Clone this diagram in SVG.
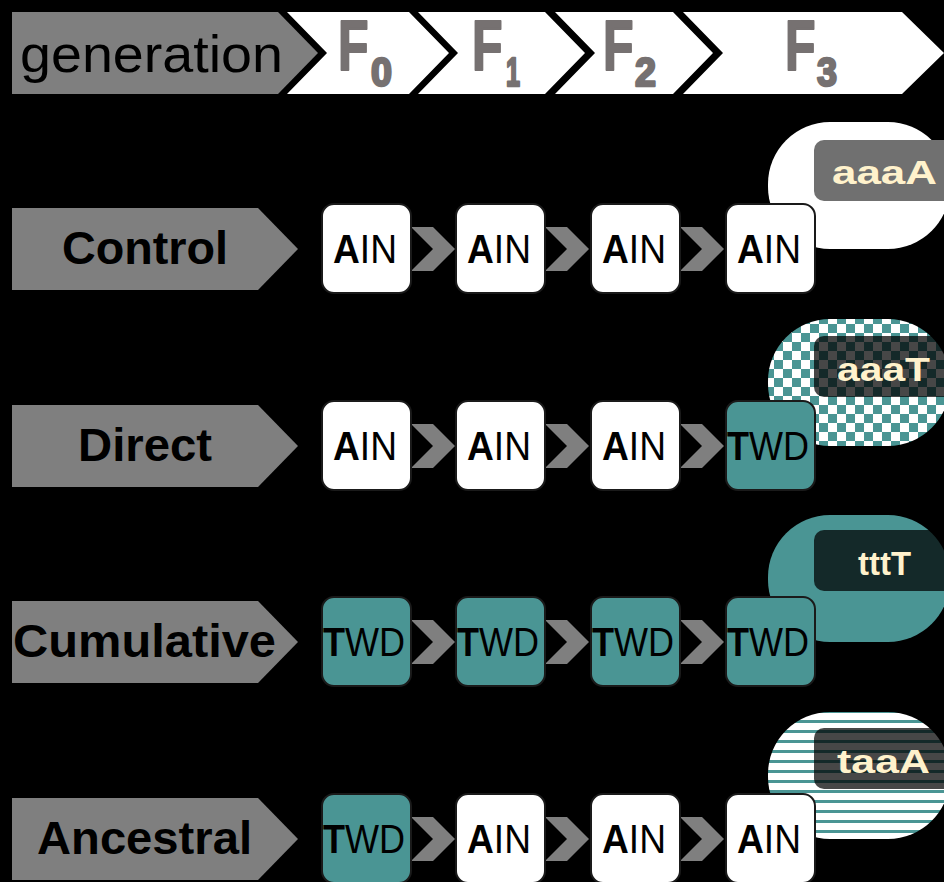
<svg xmlns="http://www.w3.org/2000/svg" width="944" height="882" viewBox="0 0 944 882">
<defs>
<style>
.hdr{fill:#ffffff}
.gray{fill:#7f7f7f}
.ftxt{font-family:"Liberation Sans",Arial,sans-serif;font-weight:bold;fill:#767171;stroke:#767171;stroke-linejoin:round}
.fbig{font-size:50px;stroke-width:1.5}
.fsub{font-size:40px;stroke-width:2.5}
.rowlbl{font-family:"Liberation Sans",Arial,sans-serif;font-weight:bold;font-size:46px;fill:#000}
.box{stroke:#1a1a1a;stroke-width:2}
.ain{fill:#ffffff}
.twd{fill:#4a9594}
.ntxt{font-family:"Liberation Sans",Arial,sans-serif;font-size:40px;fill:#000}
.b{font-weight:bold}
.conn{fill:#7f7f7f}
.lbltxt{font-family:"Liberation Sans",Arial,sans-serif;font-weight:bold;font-size:33px;fill:#fff2cc}
</style>
<pattern id="checker" x="0" y="0" width="18" height="18" patternUnits="userSpaceOnUse">
<rect width="18" height="18" fill="#ffffff"/>
<rect x="0" y="0" width="9" height="9" fill="#4a9594"/>
<rect x="9" y="9" width="9" height="9" fill="#4a9594"/>
</pattern>
<pattern id="stripes" x="0" y="0" width="10" height="10" patternUnits="userSpaceOnUse">
<rect width="10" height="10" fill="#ffffff"/>
<rect x="0" y="0" width="10" height="3" fill="#4a9594"/>
</pattern>
</defs>
<rect width="944" height="882" fill="#000"/>

<g id="header">
<polygon class="gray" points="12,12 278,12 318,53 278,94 12,94"/>
<text x="20" y="72" font-family="Liberation Sans,Arial,sans-serif" font-size="52" fill="#000" textLength="263" lengthAdjust="spacingAndGlyphs">generation</text>
<polygon class="hdr" points="287,12 409,12 449,53 409,94 287,94 327,53"/>
<polygon class="hdr" points="418,12 545,12 585,53 545,94 418,94 458,53"/>
<polygon class="hdr" points="555,12 673,12 713,53 673,94 555,94 595,53"/>
<polygon class="hdr" points="683,12 902,12 944,53 902,94 683,94 723,53"/>
<text class="ftxt fbig" transform="translate(338,70) scale(1,1.4)">F</text>
<text class="ftxt fsub" x="371" y="86" textLength="21" lengthAdjust="spacingAndGlyphs">0</text>
<text class="ftxt fbig" transform="translate(472,70) scale(1,1.4)">F</text>
<text class="ftxt fsub" x="506" y="86" textLength="14" lengthAdjust="spacingAndGlyphs">1</text>
<text class="ftxt fbig" transform="translate(603,70) scale(1,1.4)" font-size="48">F</text>
<text class="ftxt fsub" x="635" y="86" textLength="21" lengthAdjust="spacingAndGlyphs">2</text>
<text class="ftxt fbig" transform="translate(785,70) scale(1,1.4)" font-size="48">F</text>
<text class="ftxt fsub" x="817" y="86" textLength="20" lengthAdjust="spacingAndGlyphs">3</text>
</g>

<g id="row-labels">
<g id="label-control"><polygon class="gray" points="12,208 258,208 298,249 258,290 12,290"/><text class="rowlbl" x="62" y="264" textLength="166" lengthAdjust="spacingAndGlyphs">Control</text></g>
<g id="label-direct"><polygon class="gray" points="12,405 258,405 298,446 258,487 12,487"/><text class="rowlbl" x="78" y="461" textLength="134" lengthAdjust="spacingAndGlyphs">Direct</text></g>
<g id="label-cumulative"><polygon class="gray" points="12,601 258,601 298,642 258,683 12,683"/><text class="rowlbl" x="13" y="657" textLength="263" lengthAdjust="spacingAndGlyphs">Cumulative</text></g>
<g id="label-ancestral"><polygon class="gray" points="12,798 258,798 298,839 258,880 12,880"/><text class="rowlbl" x="37" y="854" textLength="215" lengthAdjust="spacingAndGlyphs">Ancestral</text></g>
</g>

<g id="connectors">
<polygon class="conn" points="411,227 433,227 455,249 433,271 411,271 433,249"/>
<polygon class="conn" points="545,227 567,227 589,249 567,271 545,271 567,249"/>
<polygon class="conn" points="680,227 702,227 724,249 702,271 680,271 702,249"/>
<polygon class="conn" points="411,424 433,424 455,446 433,468 411,468 433,446"/>
<polygon class="conn" points="545,424 567,424 589,446 567,468 545,468 567,446"/>
<polygon class="conn" points="680,424 702,424 724,446 702,468 680,468 702,446"/>
<polygon class="conn" points="411,620 433,620 455,642 433,664 411,664 433,642"/>
<polygon class="conn" points="545,620 567,620 589,642 567,664 545,664 567,642"/>
<polygon class="conn" points="680,620 702,620 724,642 702,664 680,664 702,642"/>
<polygon class="conn" points="411,817 433,817 455,839 433,861 411,861 433,839"/>
<polygon class="conn" points="545,817 567,817 589,839 567,861 545,861 567,839"/>
<polygon class="conn" points="680,817 702,817 724,839 702,861 680,861 702,839"/>
</g>

<g id="bubbles">
<g id="bubble-control">
<rect x="768" y="122" width="182" height="127" rx="62" fill="#ffffff"/>
<rect x="814" y="140" width="160" height="61" rx="10" fill="#707070"/>
<text class="lbltxt" x="832" y="184" textLength="105" lengthAdjust="spacingAndGlyphs">aaaA</text>
</g>
<g id="bubble-direct">
<rect x="768" y="319" width="182" height="127" rx="62" fill="url(#checker)"/>
<rect x="814" y="336" width="160" height="61" rx="10" fill="#000" fill-opacity="0.72"/>
<text class="lbltxt" x="837" y="381" textLength="93" lengthAdjust="spacingAndGlyphs">aaaT</text>
</g>
<g id="bubble-cumulative">
<rect x="768" y="515" width="182" height="127" rx="62" fill="#4a9594"/>
<rect x="814" y="530" width="160" height="61" rx="10" fill="#000" fill-opacity="0.72"/>
<text class="lbltxt" x="858" y="575" textLength="53" lengthAdjust="spacingAndGlyphs">tttT</text>
</g>
<g id="bubble-ancestral">
<rect x="768" y="712" width="182" height="127" rx="62" fill="url(#stripes)"/>
<rect x="814" y="728" width="160" height="61" rx="10" fill="#000" fill-opacity="0.72"/>
<text class="lbltxt" x="837" y="773" textLength="93" lengthAdjust="spacingAndGlyphs">taaA</text>
</g>
</g>

<g id="nodes">
<g id="control-f0"><rect class="box ain" x="322" y="204" width="89" height="89" rx="12"/><text class="ntxt" x="333" y="263" textLength="64" lengthAdjust="spacingAndGlyphs"><tspan class="b">A</tspan>IN</text></g>
<g id="control-f1"><rect class="box ain" x="456" y="204" width="89" height="89" rx="12"/><text class="ntxt" x="467" y="263" textLength="64" lengthAdjust="spacingAndGlyphs"><tspan class="b">A</tspan>IN</text></g>
<g id="control-f2"><rect class="box ain" x="591" y="204" width="89" height="89" rx="12"/><text class="ntxt" x="602" y="263" textLength="64" lengthAdjust="spacingAndGlyphs"><tspan class="b">A</tspan>IN</text></g>
<g id="control-f3"><rect class="box ain" x="726" y="204" width="89" height="89" rx="12"/><text class="ntxt" x="737" y="263" textLength="64" lengthAdjust="spacingAndGlyphs"><tspan class="b">A</tspan>IN</text></g>

<g id="direct-f0"><rect class="box ain" x="322" y="401" width="89" height="89" rx="12"/><text class="ntxt" x="333" y="460" textLength="64" lengthAdjust="spacingAndGlyphs"><tspan class="b">A</tspan>IN</text></g>
<g id="direct-f1"><rect class="box ain" x="456" y="401" width="89" height="89" rx="12"/><text class="ntxt" x="467" y="460" textLength="64" lengthAdjust="spacingAndGlyphs"><tspan class="b">A</tspan>IN</text></g>
<g id="direct-f2"><rect class="box ain" x="591" y="401" width="89" height="89" rx="12"/><text class="ntxt" x="602" y="460" textLength="64" lengthAdjust="spacingAndGlyphs"><tspan class="b">A</tspan>IN</text></g>
<g id="direct-f3"><rect class="box twd" x="726" y="401" width="89" height="89" rx="12"/><text class="ntxt" x="727" y="460" textLength="82" lengthAdjust="spacingAndGlyphs"><tspan class="b">T</tspan>WD</text></g>

<g id="cumulative-f0"><rect class="box twd" x="322" y="597" width="89" height="89" rx="12"/><text class="ntxt" x="323" y="656" textLength="82" lengthAdjust="spacingAndGlyphs"><tspan class="b">T</tspan>WD</text></g>
<g id="cumulative-f1"><rect class="box twd" x="456" y="597" width="89" height="89" rx="12"/><text class="ntxt" x="457" y="656" textLength="82" lengthAdjust="spacingAndGlyphs"><tspan class="b">T</tspan>WD</text></g>
<g id="cumulative-f2"><rect class="box twd" x="591" y="597" width="89" height="89" rx="12"/><text class="ntxt" x="592" y="656" textLength="82" lengthAdjust="spacingAndGlyphs"><tspan class="b">T</tspan>WD</text></g>
<g id="cumulative-f3"><rect class="box twd" x="726" y="597" width="89" height="89" rx="12"/><text class="ntxt" x="727" y="656" textLength="82" lengthAdjust="spacingAndGlyphs"><tspan class="b">T</tspan>WD</text></g>

<g id="ancestral-f0"><rect class="box twd" x="322" y="794" width="89" height="89" rx="12"/><text class="ntxt" x="323" y="853" textLength="82" lengthAdjust="spacingAndGlyphs"><tspan class="b">T</tspan>WD</text></g>
<g id="ancestral-f1"><rect class="box ain" x="456" y="794" width="89" height="89" rx="12"/><text class="ntxt" x="467" y="853" textLength="64" lengthAdjust="spacingAndGlyphs"><tspan class="b">A</tspan>IN</text></g>
<g id="ancestral-f2"><rect class="box ain" x="591" y="794" width="89" height="89" rx="12"/><text class="ntxt" x="602" y="853" textLength="64" lengthAdjust="spacingAndGlyphs"><tspan class="b">A</tspan>IN</text></g>
<g id="ancestral-f3"><rect class="box ain" x="726" y="794" width="89" height="89" rx="12"/><text class="ntxt" x="737" y="853" textLength="64" lengthAdjust="spacingAndGlyphs"><tspan class="b">A</tspan>IN</text></g>
</g>
</svg>
